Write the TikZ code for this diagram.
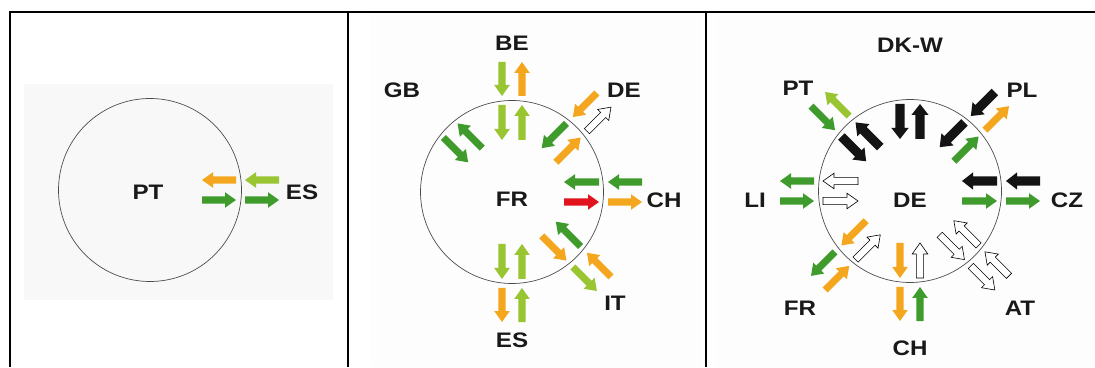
\documentclass[tikz,border=0pt]{standalone}
\usepackage{fontspec}
\setmainfont{Liberation Sans}[FakeStretch=1.15]
\usetikzlibrary{positioning}

\definecolor{flowgreen}{HTML}{3E9B2C}
\definecolor{flowlime}{HTML}{98C531}
\definecolor{floworange}{HTML}{F4A71E}
\definecolor{flowred}{HTML}{E1141E}
\definecolor{flowblack}{HTML}{141414}
\definecolor{panelgray}{HTML}{F8F8F8}

\def\sw{3.6}
\def\hw{7.8}
\tikzset{
  green arrow/.style={fill=flowgreen, draw=none},
  lime arrow/.style={fill=flowlime, draw=none},
  orange arrow/.style={fill=floworange, draw=none},
  red arrow/.style={fill=flowred, draw=none},
  black arrow/.style={fill=flowblack, draw=none, /utils/exec={\def\sw{4.6}\def\hw{8.6}}},
  white arrow/.style={fill=white, draw=black, line width=0.6pt},
  none arrow/.style={draw=none, fill=none},
  zone/.style={circle, draw=black!70, line width=0.7pt, minimum size=183pt, inner sep=0pt},
  country/.style={font=\fontsize{21}{21}\selectfont\bfseries, text=black!90},
  frame/.style={line width=1.6pt}
}

% #1 zone, #2 angle, #3 side offset, #4 from radius, #5 to radius, #6 style
\newcommand{\flow}[6]{%
  \pgfmathsetmacro{\hb}{#5-11*sign(#5-#4)}%
  \path[shift={(#1)}, rotate=#2, #6]
    (#4,{#3-\sw}) -- (\hb,{#3-\sw}) -- (\hb,{#3-\hw}) -- (#5,#3)
    -- (\hb,{#3+\hw}) -- (\hb,{#3+\sw}) -- (#4,{#3+\sw}) -- cycle;}

\begin{document}
\begin{tikzpicture}[x=1pt, y=1pt]
  \useasboundingbox (0,0) rectangle (1095,367);

  \fill[panelgray] (24,67) rectangle (333,283);
  \fill[panelgray!30] (371,0) rectangle (702,352);
  \fill[panelgray!30] (716,0) rectangle (1095,352);

  \draw[frame] (10,0) -- (10,355) -- (1095,355);
  \draw[frame] (348,0) -- (348,355);
  \draw[frame] (706,0) -- (706,355);

  % Portugal
  \node[zone] (pt) at (150,177) {};
  \node[country] (ptname) at (148,175) {PT};
  \node[country] (pt-es) at (302,175) {ES};
  \flow{pt}{0}{10}{86}{52}{orange arrow}
  \flow{pt}{0}{-10}{52}{86}{green arrow}
  \flow{pt}{0}{10}{129}{95}{lime arrow}
  \flow{pt}{0}{-10}{95}{129}{green arrow}

  % France
  \node[zone] (fr) at (512,175) {};
  \node[country] (frname) [below=-3pt of fr.center] {FR};
  \node[country] (fr-be) at (512,324) {BE};
  \node[country] (fr-gb) at (402,277) {GB};
  \node[country] (fr-de) at (624,277) {DE};
  \node[country] (fr-ch) at (664,167) {CH};
  \node[country] (fr-it) at (615,64) {IT};
  \node[country] (fr-es) at (512,27) {ES};
  \foreach \a/\ii/\io/\oi/\oo in {90/lime/lime/lime/orange, 135/green/green/none/none,
      45/green/orange/orange/white, 0/green/red/green/orange,
      -45/green/orange/orange/lime, -90/lime/lime/lime/orange}{
    \flow{fr}{\a}{10}{87}{52}{\ii\space arrow}
    \flow{fr}{\a}{-10}{52}{87}{\io\space arrow}
    \flow{fr}{\a}{10}{130}{96}{\oi\space arrow}
    \flow{fr}{\a}{-10}{96}{130}{\oo\space arrow}
  }

  % Germany
  \node[zone] (de) at (910,176) {};
  \node[country] (dename) [below=-1pt of de.center] {DE};
  \node[country] (de-dk) at (910,322) {DK-W};
  \node[country] (de-pt) at (798,279) {PT};
  \node[country] (de-pl) at (1022,277) {PL};
  \node[country] (de-li) at (755,167) {LI};
  \node[country] (de-cz) at (1067,167) {CZ};
  \node[country] (de-fr) at (800,59) {FR};
  \node[country] (de-at) at (1020,59) {AT};
  \node[country] (de-ch) at (910,19) {CH};
  \foreach \a/\ii/\io/\oi/\oo in {90/black/black/none/none, 135/black/black/green/lime,
      45/black/green/black/orange, 0/black/green/black/green,
      180/white/white/green/green, -135/white/orange/orange/green,
      -90/white/orange/green/orange, -45/white/white/white/white}{
    \flow{de}{\a}{10}{87}{52}{\ii\space arrow}
    \flow{de}{\a}{-10}{52}{87}{\io\space arrow}
    \flow{de}{\a}{10}{130}{96}{\oi\space arrow}
    \flow{de}{\a}{-10}{96}{130}{\oo\space arrow}
  }
\end{tikzpicture}
\end{document}
